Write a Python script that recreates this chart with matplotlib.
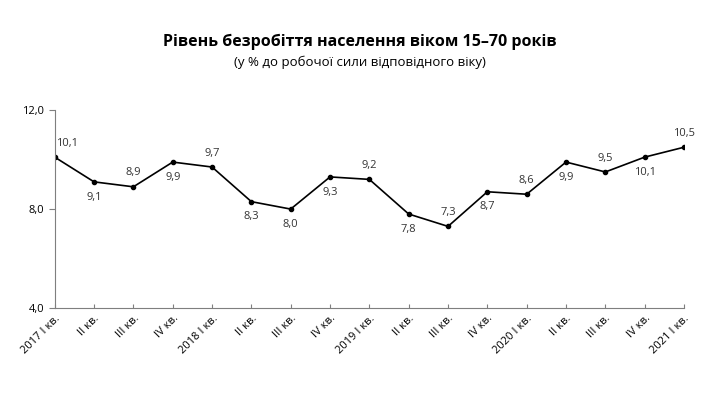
import numpy as np
import matplotlib.pyplot as plt

plt.rcParams['font.family'] = ['Open Sans', 'DejaVu Sans']

# Quarters and unemployment rate
quarters = ['2017 I кв.', 'II кв.', 'III кв.', 'IV кв.',
            '2018 I кв.', 'II кв.', 'III кв.', 'IV кв.',
            '2019 I кв.', 'II кв.', 'III кв.', 'IV кв.',
            '2020 I кв.', 'II кв.', 'III кв.', 'IV кв.',
            '2021 I кв.']
rate = [10.1, 9.1, 8.9, 9.9, 9.7, 8.3, 8.0, 9.3, 9.2, 7.8, 7.3, 8.7,
        8.6, 9.9, 9.5, 10.1, 10.5]
# label above (1) or below (-1) the point
side = [1, -1, 1, -1, 1, -1, -1, -1, 1, -1, 1, -1, 1, -1, 1, -1, 1]
yticks = [4.0, 8.0, 12.0]

fig = plt.figure(figsize=(7.2, 3.99), dpi=100)
ax = fig.add_axes([0.076, 0.228, 0.874, 0.496])

x = np.arange(len(rate))
ax.plot(x, rate, color='black', lw=1.2, marker='o', ms=3)

for i, (v, s) in enumerate(zip(rate, side)):
    dx = 9 if i == 0 else 0
    dy = 6 if s > 0 else -7
    ax.annotate(f'{v:.1f}'.replace('.', ','), (i, v), xytext=(dx, dy),
                textcoords='offset points', ha='center',
                va='bottom' if s > 0 else 'top', fontsize=8, color='#333333')

ax.set_xlim(0, len(rate) - 1)
ax.set_ylim(4, 12)
ax.set_yticks(yticks)
ax.set_yticklabels([f'{t:.1f}'.replace('.', ',') for t in yticks], fontsize=8)
ax.set_xticks(x)
ax.set_xticklabels(quarters, rotation=45, ha='right', rotation_mode='anchor',
                   fontsize=8)

for s in ['top', 'right']:
    ax.spines[s].set_visible(False)
for s in ['left', 'bottom']:
    ax.spines[s].set_color('#7f7f7f')
ax.tick_params(axis='y', direction='out', length=4, color='#7f7f7f')
ax.tick_params(axis='x', direction='in', length=3, color='#7f7f7f')

fig.text(0.5, 0.885, 'Рівень безробіття населення віком 15–70 років',
         ha='center', fontsize=11.5, fontweight='bold')
fig.text(0.5, 0.835, '(у % до робочої сили відповідного віку)',
         ha='center', fontsize=9.5)

fig.savefig('out.png', dpi=100)
